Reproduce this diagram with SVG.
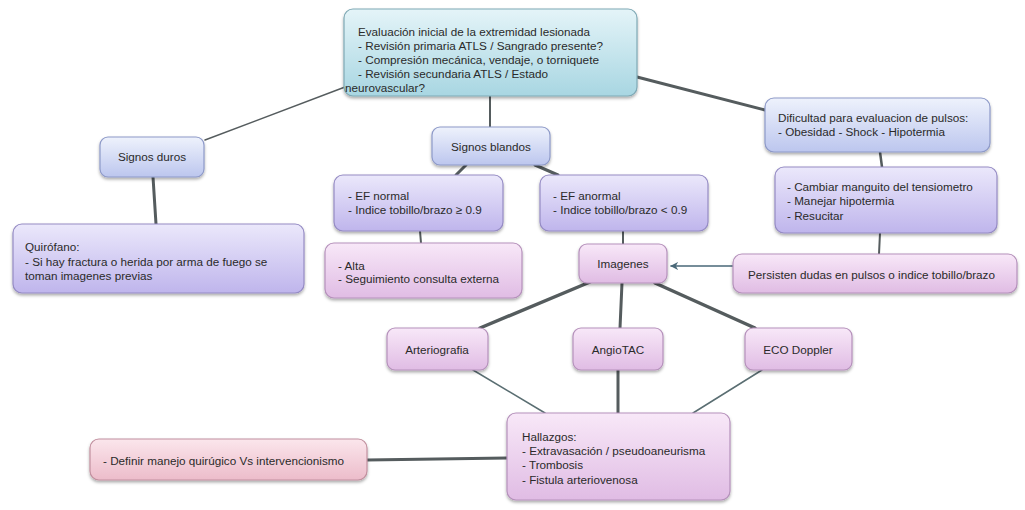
<svg xmlns="http://www.w3.org/2000/svg" width="1025" height="510" viewBox="0 0 1025 510">
<defs>
<linearGradient id="gCyan" x1="0" y1="0" x2="0" y2="1"><stop offset="0" stop-color="#e4f4f8"/><stop offset="1" stop-color="#a8d6e2"/></linearGradient>
<linearGradient id="gBlue" x1="0" y1="0" x2="0" y2="1"><stop offset="0" stop-color="#eef2fc"/><stop offset="1" stop-color="#bcc6ee"/></linearGradient>
<linearGradient id="gViolet" x1="0" y1="0" x2="0" y2="1"><stop offset="0" stop-color="#ebe8fb"/><stop offset="1" stop-color="#bfb5ec"/></linearGradient>
<linearGradient id="gOrchid" x1="0" y1="0" x2="0" y2="1"><stop offset="0" stop-color="#f8e8f8"/><stop offset="1" stop-color="#e0bce4"/></linearGradient>
<linearGradient id="gPink" x1="0" y1="0" x2="0" y2="1"><stop offset="0" stop-color="#fbe6ec"/><stop offset="1" stop-color="#ecbcca"/></linearGradient>
<filter id="sh" x="-10%" y="-10%" width="120%" height="130%"><feDropShadow dx="0" dy="2" stdDeviation="1.6" flood-color="#000" flood-opacity="0.32"/></filter>
<marker id="arr" viewBox="0 0 10 10" refX="9" refY="5" markerWidth="8" markerHeight="8" markerUnits="userSpaceOnUse" orient="auto"><path d="M0,0 L10,5 L0,10 L3,5 z" fill="#4a6878"/></marker>
</defs>
<style>
.n rect{stroke-width:1.2;filter:url(#sh)}
.cyan rect{fill:url(#gCyan);stroke:#7fa9b5}
.blue rect{fill:url(#gBlue);stroke:#8d99c8}
.violet rect{fill:url(#gViolet);stroke:#958bc4}
.orchid rect{fill:url(#gOrchid);stroke:#b591bb}
.pink rect{fill:url(#gPink);stroke:#c2909f}
text{font-family:"Liberation Sans",Arial,sans-serif;font-size:11.7px;fill:#2a2a2a}
.c{text-anchor:middle}
#edges line{stroke:#555c5e;stroke-linecap:round}
</style>
<g id="edges">
<line x1="345" y1="87" x2="205" y2="140" stroke-width="1.5"/>
<line x1="490" y1="96" x2="490" y2="127" stroke-width="2"/>
<line x1="637" y1="77" x2="765" y2="110" stroke-width="3"/>
<line x1="153" y1="177" x2="156" y2="224" stroke-width="3"/>
<line x1="466" y1="165" x2="456" y2="175" stroke-width="3"/>
<line x1="535" y1="165" x2="558" y2="175" stroke-width="3"/>
<line x1="420" y1="231" x2="421" y2="243" stroke-width="2"/>
<line x1="623" y1="231" x2="623" y2="244" stroke-width="2"/>
<line x1="590" y1="282" x2="480" y2="328" stroke-width="3.5"/>
<line x1="622" y1="283" x2="620" y2="328" stroke-width="3"/>
<line x1="655" y1="283" x2="755" y2="328" stroke-width="3.5"/>
<line x1="473" y1="370" x2="545" y2="413" stroke-width="1.5" style="stroke:#5a6e72"/>
<line x1="618" y1="370" x2="618" y2="413" stroke-width="3"/>
<line x1="762" y1="370" x2="693" y2="413" stroke-width="1.5" style="stroke:#5a6e72"/>
<line x1="367" y1="460" x2="507" y2="458" stroke-width="3"/>
<line x1="880" y1="152" x2="882" y2="167" stroke-width="2.5"/>
<line x1="880" y1="233" x2="879" y2="254" stroke-width="2"/>
<line x1="733" y1="266" x2="671" y2="266" stroke-width="1.5" style="stroke:#4a6878" marker-end="url(#arr)"/>
</g>
<g id="n-eval" class="n cyan"><rect x="344" y="9" width="293" height="87" rx="9"/>
<text x="358" y="36" textLength="232" lengthAdjust="spacingAndGlyphs">Evaluación inicial de la extremidad lesionada</text>
<text x="358" y="50" textLength="245" lengthAdjust="spacingAndGlyphs">- Revisión primaria ATLS / Sangrado presente?</text>
<text x="358" y="64" textLength="241" lengthAdjust="spacingAndGlyphs">- Compresión mecánica, vendaje, o torniquete</text>
<text x="358" y="78" textLength="190" lengthAdjust="spacingAndGlyphs">- Revisión secundaria ATLS / Estado</text>
<text x="345" y="92">neurovascular?</text></g>
<g id="n-duros" class="n blue"><rect x="100" y="137" width="104" height="40" rx="8"/><text class="c" x="152" y="161">Signos duros</text></g>
<g id="n-quirofano" class="n violet"><rect x="13" y="224" width="291" height="69" rx="9"/>
<text x="25" y="251">Quirófano:</text>
<text x="25" y="266">- Si hay fractura o herida por arma de fuego se</text>
<text x="25" y="280">toman imagenes previas</text></g>
<g id="n-blandos" class="n blue"><rect x="432" y="127" width="118" height="38" rx="8"/><text class="c" x="491" y="151">Signos blandos</text></g>
<g id="n-efnormal" class="n violet"><rect x="334" y="175" width="169" height="56" rx="9"/>
<text x="348" y="200">- EF normal</text>
<text x="348" y="214">- Indice tobillo/brazo ≥ 0.9</text></g>
<g id="n-efanormal" class="n violet"><rect x="540" y="175" width="168" height="56" rx="9"/>
<text x="553" y="200">- EF anormal</text>
<text x="553" y="214">- Indice tobillo/brazo &lt; 0.9</text></g>
<g id="n-alta" class="n orchid"><rect x="325" y="243" width="197" height="55" rx="9"/>
<text x="338" y="270">- Alta</text>
<text x="338" y="283">- Seguimiento consulta externa</text></g>
<g id="n-imagenes" class="n orchid"><rect x="579" y="244" width="88" height="39" rx="8"/><text class="c" x="623" y="268">Imagenes</text></g>
<g id="n-dificultad" class="n blue"><rect x="765" y="98" width="225" height="54" rx="9"/>
<text x="778" y="122">Dificultad para evaluacion de pulsos:</text>
<text x="778" y="136">- Obesidad - Shock - Hipotermia</text></g>
<g id="n-cambiar" class="n violet"><rect x="775" y="167" width="222" height="66" rx="9"/>
<text x="787" y="191">- Cambiar manguito del tensiometro</text>
<text x="787" y="205">- Manejar hipotermia</text>
<text x="787" y="220">- Resucitar</text></g>
<g id="n-persisten" class="n orchid"><rect x="733" y="254" width="284" height="39" rx="9"/><text x="748" y="279">Persisten dudas en pulsos o indice tobillo/brazo</text></g>
<g id="n-arterio" class="n orchid"><rect x="387" y="328" width="101" height="42" rx="8"/><text class="c" x="437" y="354">Arteriografia</text></g>
<g id="n-angiotac" class="n orchid"><rect x="573" y="328" width="90" height="42" rx="8"/><text class="c" x="618" y="354">AngioTAC</text></g>
<g id="n-eco" class="n orchid"><rect x="745" y="328" width="107" height="42" rx="8"/><text class="c" x="798" y="354">ECO Doppler</text></g>
<g id="n-hallazgos" class="n orchid"><rect x="507" y="413" width="223" height="87" rx="9"/>
<text x="522" y="441">Hallazgos:</text>
<text x="522" y="455">- Extravasación / pseudoaneurisma</text>
<text x="522" y="469">- Trombosis</text>
<text x="522" y="484">- Fistula arteriovenosa</text></g>
<g id="n-definir" class="n pink"><rect x="90" y="439" width="277" height="41" rx="9"/><text x="103" y="465">- Definir manejo quirúgico Vs intervencionismo</text></g>
</svg>
